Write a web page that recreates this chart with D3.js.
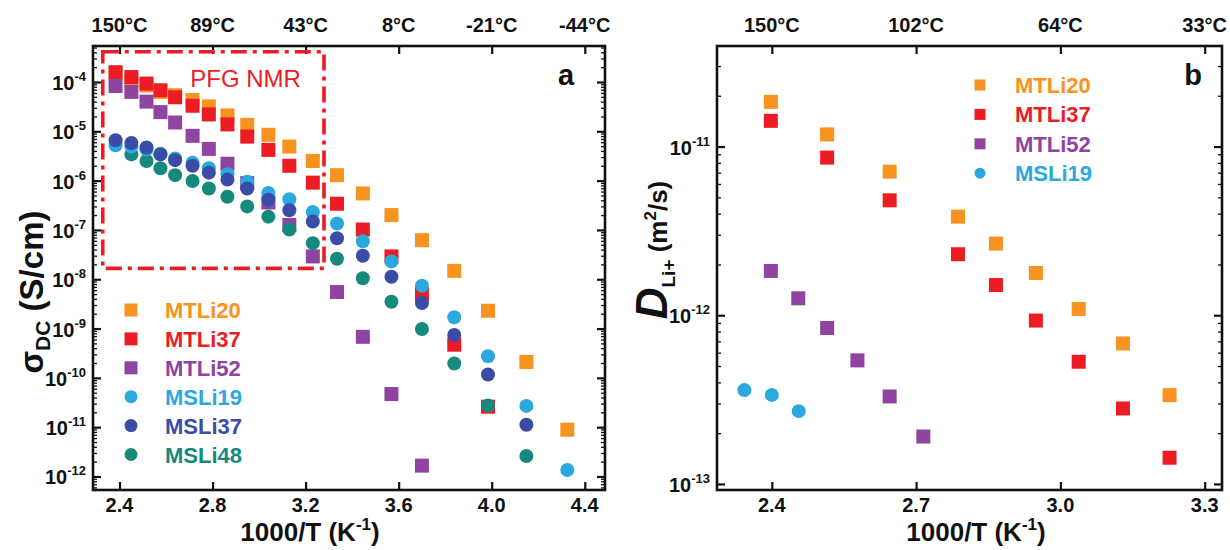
<!DOCTYPE html>
<html><head><meta charset="utf-8">
<script src="https://cdn.jsdelivr.net/npm/d3@7"></script>
<style>
body{margin:0;background:#fff}
svg{display:block}
text{font-family:"Liberation Sans",Arial,sans-serif;font-weight:bold;fill:#111}
</style>
</head><body>
<svg id="c" width="1230" height="550"></svg>
<script>
// ---------------- Panel a data: sigma_DC vs 1000/T ----------------
const xTicksA = [2.4, 2.8, 3.2, 3.6, 4.0, 4.4];
const xTickLabelsA = ["2.4", "2.8", "3.2", "3.6", "4.0", "4.4"];
const topLabelsA = ["150°C", "89°C", "43°C", "8°C", "-21°C", "-44°C"];
const yExpA = [-12, -11, -10, -9, -8, -7, -6, -5, -4];

const MTLi20_x = [2.383, 2.451, 2.516, 2.576, 2.639, 2.714, 2.784, 2.864, 2.949, 3.040, 3.130, 3.231, 3.335, 3.446, 3.569, 3.700, 3.839, 3.984, 4.149, 4.325];
const MTLi20_y = [1.48e-4, 1.07e-4, 8.5e-5, 6.3e-5, 5.4e-5, 4.3e-5, 3.2e-5, 2.1e-5, 1.35e-5, 8.5e-6, 4.9e-6, 2.5e-6, 1.29e-6, 5.5e-7, 2.0e-7, 6.2e-8, 1.48e-8, 2.3e-9, 2.1e-10, 8.9e-12];
const MTLi37_x = [2.383, 2.451, 2.516, 2.576, 2.639, 2.714, 2.784, 2.864, 2.949, 3.040, 3.130, 3.231, 3.335, 3.446, 3.569, 3.700, 3.839, 3.984];
const MTLi37_y = [1.58e-4, 1.26e-4, 9.3e-5, 6.8e-5, 4.9e-5, 3.3e-5, 2.2e-5, 1.38e-5, 7.8e-6, 4.2e-6, 2.0e-6, 9.1e-7, 3.4e-7, 1.02e-7, 2.9e-8, 5.0e-9, 4.7e-10, 2.6e-11];
const MTLi52_x = [2.383, 2.451, 2.516, 2.576, 2.639, 2.714, 2.784, 2.864, 2.949, 3.040, 3.130, 3.231, 3.335, 3.446, 3.569, 3.700];
const MTLi52_y = [8.3e-5, 6.3e-5, 4.0e-5, 2.45e-5, 1.51e-5, 8.1e-6, 4.4e-6, 2.2e-6, 8.9e-7, 3.6e-7, 1.26e-7, 2.9e-8, 5.5e-9, 6.8e-10, 4.7e-11, 1.66e-12];
const MSLi19_x = [2.383, 2.451, 2.516, 2.576, 2.639, 2.714, 2.784, 2.864, 2.949, 3.040, 3.130, 3.231, 3.335, 3.446, 3.569, 3.700, 3.839, 3.984, 4.149, 4.325];
const MSLi19_y = [5.2e-6, 4.9e-6, 4.3e-6, 3.5e-6, 2.8e-6, 2.3e-6, 1.78e-6, 1.35e-6, 9.5e-7, 5.6e-7, 4.2e-7, 2.3e-7, 1.35e-7, 5.9e-8, 2.3e-8, 7.4e-9, 1.7e-9, 2.75e-10, 2.7e-11, 1.35e-12];
const MSLi37_x = [2.383, 2.451, 2.516, 2.576, 2.639, 2.714, 2.784, 2.864, 2.949, 3.040, 3.130, 3.231, 3.335, 3.446, 3.569, 3.700, 3.839, 3.984, 4.149];
const MSLi37_y = [6.6e-6, 5.8e-6, 4.7e-6, 3.4e-6, 2.6e-6, 2.0e-6, 1.45e-6, 1.05e-6, 6.9e-7, 4.1e-7, 2.5e-7, 1.48e-7, 6.8e-8, 3.0e-8, 1.12e-8, 3.3e-9, 7.4e-10, 1.17e-10, 1.12e-11];
const MSLi48_x = [2.451, 2.516, 2.576, 2.639, 2.714, 2.784, 2.864, 2.949, 3.040, 3.130, 3.231, 3.335, 3.446, 3.569, 3.700, 3.839, 3.984, 4.149];
const MSLi48_y = [3.4e-6, 2.5e-6, 1.78e-6, 1.29e-6, 9.8e-7, 6.9e-7, 4.7e-7, 3.0e-7, 1.86e-7, 1.02e-7, 5.4e-8, 2.6e-8, 1.05e-8, 3.5e-9, 9.8e-10, 1.95e-10, 2.75e-11, 2.6e-12];

// PFG NMR box (data coordinates) and its label
const pfgBoxX = [2.328, 3.279];
const pfgBoxY = [4.1e-4, 1.66e-8];
const pfgLabel = "PFG NMR";
const pfgLabelPos = [2.942, 7.9e-5];

// ---------------- Panel b data: D_Li+ vs 1000/T ----------------
const xTicksB = [2.4, 2.7, 3.0, 3.3];
const xTickLabelsB = ["2.4", "2.7", "3.0", "3.3"];
const topLabelsB = ["150°C", "102°C", "64°C", "33°C"];
const yExpB = [-13, -12, -11];

const bMTLi20_x = [2.398, 2.515, 2.645, 2.787, 2.866, 2.949, 3.038, 3.130, 3.227];
const bMTLi20_y = [1.84e-11, 1.18e-11, 7.1e-12, 3.84e-12, 2.66e-12, 1.78e-12, 1.09e-12, 6.8e-13, 3.36e-13];
const bMTLi37_x = [2.398, 2.515, 2.645, 2.787, 2.866, 2.949, 3.038, 3.130, 3.227];
const bMTLi37_y = [1.42e-11, 8.6e-12, 4.8e-12, 2.3e-12, 1.51e-12, 9.3e-13, 5.3e-13, 2.8e-13, 1.43e-13];
const bMTLi52_x = [2.398, 2.455, 2.515, 2.578, 2.645, 2.715];
const bMTLi52_y = [1.83e-12, 1.26e-12, 8.4e-13, 5.4e-13, 3.3e-13, 1.91e-13];
const bMSLi19_x = [2.343, 2.400, 2.456];
const bMSLi19_y = [3.6e-13, 3.37e-13, 2.7e-13];

// ---------------- styling ----------------
const C = {
  MTLi20: "#F7931E", MTLi37: "#EC1C24", MTLi52: "#8E44A0",
  MSLi19: "#2BA8E0", MSLi37: "#3A4DA6", MSLi48: "#158A7C"
};

const seriesA = [
  {name: "MTLi20", shape: "sq", x: MTLi20_x, y: MTLi20_y},
  {name: "MTLi37", shape: "sq", x: MTLi37_x, y: MTLi37_y},
  {name: "MTLi52", shape: "sq", x: MTLi52_x, y: MTLi52_y},
  {name: "MSLi48", shape: "ci", x: MSLi48_x, y: MSLi48_y},
  {name: "MSLi19", shape: "ci", x: MSLi19_x, y: MSLi19_y},
  {name: "MSLi37", shape: "ci", x: MSLi37_x, y: MSLi37_y}
];
const legendA = ["MTLi20", "MTLi37", "MTLi52", "MSLi19", "MSLi37", "MSLi48"];
const shapeOf = {MTLi20: "sq", MTLi37: "sq", MTLi52: "sq", MSLi19: "ci", MSLi37: "ci", MSLi48: "ci"};

const seriesB = [
  {name: "MTLi20", shape: "sq", x: bMTLi20_x, y: bMTLi20_y},
  {name: "MTLi37", shape: "sq", x: bMTLi37_x, y: bMTLi37_y},
  {name: "MTLi52", shape: "sq", x: bMTLi52_x, y: bMTLi52_y},
  {name: "MSLi19", shape: "ci", x: bMSLi19_x, y: bMSLi19_y}
];
const legendB = ["MTLi20", "MTLi37", "MTLi52", "MSLi19"];

const svg = d3.select("#c");

function drawMarker(g, shape, cx, cy, size, color) {
  if (shape === "sq") {
    g.append("rect").attr("x", cx - size / 2).attr("y", cy - size / 2)
      .attr("width", size).attr("height", size).attr("fill", color);
  } else {
    g.append("circle").attr("cx", cx).attr("cy", cy).attr("r", size / 2).attr("fill", color);
  }
}

function panel(cfg) {
  const x = d3.scaleLinear().domain(cfg.xDomain).range([cfg.left, cfg.right]);
  const y = d3.scaleLog().domain(cfg.yDomain).range([cfg.bottom, cfg.top]);
  const g = svg.append("g");

  // minor log ticks
  const minors = [];
  const lo = Math.floor(Math.log10(cfg.yDomain[0])), hi = Math.ceil(Math.log10(cfg.yDomain[1]));
  for (let e = lo; e < hi; e++) for (let m = 2; m <= 9; m++) {
    const v = m * Math.pow(10, e);
    if (v > cfg.yDomain[0] && v < cfg.yDomain[1]) minors.push(v);
  }
  const majors = cfg.yExp.map(e => Math.pow(10, e));

  const styleAxis = (sel, w) => {
    sel.select(".domain").remove();
    sel.selectAll(".tick line").attr("stroke", "#111").attr("stroke-width", w);
  };
  g.append("g").attr("transform", `translate(${cfg.left},0)`)
    .call(d3.axisLeft(y).tickValues(minors).tickSizeInner(-4).tickSizeOuter(0).tickFormat(""))
    .call(s => styleAxis(s, 1.3));
  g.append("g").attr("transform", `translate(${cfg.right},0)`)
    .call(d3.axisRight(y).tickValues(minors).tickSizeInner(-4).tickSizeOuter(0).tickFormat(""))
    .call(s => styleAxis(s, 1.3));
  g.append("g").attr("transform", `translate(${cfg.left},0)`)
    .call(d3.axisLeft(y).tickValues(majors).tickSizeInner(-8).tickSizeOuter(0).tickFormat(""))
    .call(s => styleAxis(s, 2.2));
  g.append("g").attr("transform", `translate(${cfg.right},0)`)
    .call(d3.axisRight(y).tickValues(majors).tickSizeInner(-8).tickSizeOuter(0).tickFormat(""))
    .call(s => styleAxis(s, 2.2));
  g.append("g").attr("transform", `translate(0,${cfg.bottom})`)
    .call(d3.axisBottom(x).tickValues(cfg.xTicks).tickSizeInner(-8).tickSizeOuter(0).tickFormat(""))
    .call(s => styleAxis(s, 2.2));
  g.append("g").attr("transform", `translate(0,${cfg.top})`)
    .call(d3.axisTop(x).tickValues(cfg.xTicks).tickSizeInner(-8).tickSizeOuter(0).tickFormat(""))
    .call(s => styleAxis(s, 2.2));

  // frame
  g.append("rect").attr("x", cfg.left).attr("y", cfg.top)
    .attr("width", cfg.right - cfg.left).attr("height", cfg.bottom - cfg.top)
    .attr("fill", "none").attr("stroke", "#111").attr("stroke-width", 2.6);

  // tick labels
  cfg.xTicks.forEach((v, i) => {
    g.append("text").attr("x", x(v)).attr("y", cfg.bottom + 22).attr("text-anchor", "middle")
      .attr("font-size", 20).text(cfg.xTickLabels[i]);
    g.append("text").attr("x", x(v)).attr("y", 32).attr("text-anchor", "middle")
      .attr("font-size", 20).text(cfg.topLabels[i]);
  });
  cfg.yExp.forEach(e => {
    const t = g.append("text").attr("x", cfg.left - 7).attr("y", y(Math.pow(10, e)) + 8)
      .attr("text-anchor", "end").attr("font-size", 20);
    t.append("tspan").text("10");
    t.append("tspan").attr("dy", -9).attr("font-size", 13).text(String(e));
  });

  // data
  const dg = g.append("g");
  cfg.series.forEach(s => {
    s.x.forEach((xv, i) => drawMarker(dg, s.shape, x(xv), y(s.y[i]), cfg.markSize, C[s.name]));
  });

  // legend
  cfg.legend.forEach((name, i) => {
    const ly = cfg.legY + i * cfg.legStep;
    drawMarker(g, shapeOf[name], cfg.legMx, ly, cfg.legMs, C[name]);
    g.append("text").attr("x", cfg.legTx).attr("y", ly + 8).attr("font-size", 22)
      .attr("fill", C[name]).style("fill", C[name]).text(name);
  });

  // panel letter
  g.append("text").attr("x", cfg.letterX).attr("y", 85).attr("text-anchor", "middle")
    .attr("font-size", 29).text(cfg.letter);

  return {x, y, g};
}

// ---------- Panel a ----------
const pa = panel({
  left: 93, right: 605, top: 46, bottom: 490,
  xDomain: [2.286, 4.487], yDomain: [Math.pow(10, -12.274), Math.pow(10, -3.27)],
  xTicks: xTicksA, xTickLabels: xTickLabelsA, topLabels: topLabelsA, yExp: yExpA,
  series: seriesA, markSize: 14,
  legend: legendA, legY: 310, legStep: 28.9, legMx: 131, legMs: 13, legTx: 165,
  letter: "a", letterX: 566
});
// PFG NMR dash-dot box
pa.g.append("rect")
  .attr("x", pa.x(pfgBoxX[0])).attr("y", pa.y(pfgBoxY[0]))
  .attr("width", pa.x(pfgBoxX[1]) - pa.x(pfgBoxX[0]))
  .attr("height", pa.y(pfgBoxY[1]) - pa.y(pfgBoxY[0]))
  .attr("fill", "none").attr("stroke", "#EC1C24").attr("stroke-width", 3.6)
  .attr("stroke-dasharray", "16,6,4,6");
pa.g.append("text").attr("x", pa.x(pfgLabelPos[0])).attr("y", pa.y(pfgLabelPos[1]))
  .attr("text-anchor", "middle").attr("font-size", 24).style("font-weight", "normal")
  .style("fill", "#EC1C24").text(pfgLabel);

// axis titles panel a
svg.append("text").attr("transform", "translate(43,292) rotate(-90)").attr("text-anchor", "middle")
  .attr("font-size", 33)
  .call(t => {
    t.append("tspan").text("σ");
    t.append("tspan").attr("font-size", 21).attr("dy", 7).text("DC");
    t.append("tspan").attr("dy", -7).text(" (S/cm)");
  });
svg.append("text").attr("x", 310).attr("y", 541).attr("text-anchor", "middle").attr("font-size", 26)
  .call(t => {
    t.append("tspan").text("1000/T (K");
    t.append("tspan").attr("font-size", 17).attr("dy", -11).text("-1");
    t.append("tspan").attr("dy", 11).text(")");
  });

// ---------- Panel b ----------
const pb = panel({
  left: 717, right: 1222, top: 46, bottom: 490,
  xDomain: [2.286, 3.336], yDomain: [Math.pow(10, -13.036), Math.pow(10, -10.404)],
  xTicks: xTicksB, xTickLabels: xTickLabelsB, topLabels: topLabelsB, yExp: yExpB,
  series: seriesB, markSize: 14,
  legend: legendB, legY: 85, legStep: 29.4, legMx: 980, legMs: 11, legTx: 1015,
  letter: "b", letterX: 1193
});
svg.append("text").attr("transform", "translate(667,250) rotate(-90)").attr("text-anchor", "middle")
  .attr("font-size", 26)
  .call(t => {
    t.append("tspan").attr("font-size", 44).style("font-style", "italic").text("D");
    t.append("tspan").attr("font-size", 19).attr("dy", 8).text("Li+");
    t.append("tspan").attr("dy", -8).text(" (m");
    t.append("tspan").attr("font-size", 17).attr("dy", -11).text("2");
    t.append("tspan").attr("dy", 11).text("/s)");
  });
svg.append("text").attr("x", 976).attr("y", 541).attr("text-anchor", "middle").attr("font-size", 26)
  .call(t => {
    t.append("tspan").text("1000/T (K");
    t.append("tspan").attr("font-size", 17).attr("dy", -11).text("-1");
    t.append("tspan").attr("dy", 11).text(")");
  });
</script>
</body></html>
